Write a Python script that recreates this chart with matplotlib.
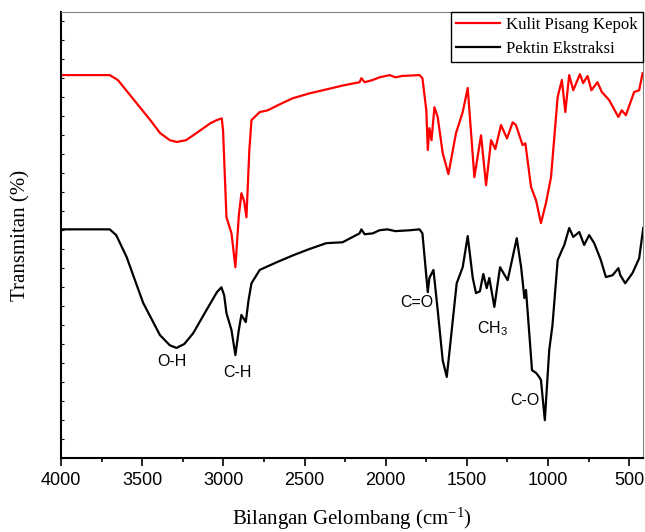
import numpy as np
import matplotlib
matplotlib.use("Agg")
import matplotlib.pyplot as plt
from matplotlib.ticker import MultipleLocator

plt.rcParams["mathtext.fontset"] = "custom"
plt.rcParams["mathtext.rm"] = "Liberation Serif"
plt.rcParams["mathtext.it"] = "Liberation Serif:italic"

# wavenumber (cm-1) and transmittance (arbitrary %)
kulit_w = [4000, 3700, 3650, 3550, 3450, 3390, 3330, 3287, 3230, 3150, 3080, 3041, 3010,
           3002, 2981, 2950, 2926, 2905, 2889, 2872, 2858, 2840, 2827, 2776, 2727, 2650,
           2573, 2470, 2364, 2260, 2161, 2150, 2130, 2080, 2038, 2000, 1976, 1940, 1900,
           1792, 1774, 1750, 1741, 1731, 1718, 1700, 1680, 1649, 1614, 1567, 1526, 1495,
           1454, 1413, 1382, 1351, 1325, 1290, 1253, 1218, 1198, 1157, 1140, 1105, 1074,
           1044, 1013, 982, 941, 915, 894, 870, 845, 804, 784, 757, 733, 696, 669, 624,
           567, 546, 521, 470, 439, 418]
kulit_t = [85.9, 85.9, 84.8, 80.3, 75.8, 72.9, 71.3, 70.9, 71.3, 73.3, 75.1, 75.8, 76.2,
           73.5, 54.0, 50.4, 42.8, 54.3, 59.4, 57.6, 54.0, 69.1, 75.8, 77.6, 78.0, 79.4,
           80.7, 81.8, 82.7, 83.6, 84.3, 85.2, 84.3, 84.8, 85.4, 85.7, 85.9, 85.4, 85.7,
           85.9, 85.2, 78.0, 69.1, 74.0, 71.3, 78.7, 76.5, 68.4, 63.7, 72.9, 77.6, 83.0,
           63.0, 72.4, 61.2, 71.3, 69.3, 74.7, 71.7, 75.3, 74.7, 70.2, 70.6, 60.8, 57.8,
           52.7, 57.2, 63.0, 81.0, 84.8, 77.6, 85.9, 82.5, 86.1, 84.1, 85.7, 82.5, 84.3,
           82.1, 80.3, 76.5, 78.0, 76.9, 82.1, 82.5, 86.3]

pektin_w = [4000, 3700, 3660, 3596, 3494, 3391, 3330, 3289, 3240, 3186, 3104, 3040, 3012,
            2995, 2981, 2950, 2926, 2905, 2889, 2862, 2845, 2827, 2776, 2673, 2569, 2469,
            2366, 2266, 2161, 2150, 2130, 2080, 2038, 1990, 1940, 1850, 1792, 1774, 1741,
            1731, 1706, 1680, 1649, 1624, 1598, 1563, 1526, 1495, 1464, 1444, 1420, 1399,
            1378, 1362, 1331, 1296, 1249, 1193, 1166, 1146, 1136, 1116, 1099, 1074, 1055,
            1044, 1020, 993, 973, 941, 915, 900, 870, 845, 808, 778, 747, 716, 675, 644,
            603, 567, 555, 525, 480, 439, 414]
pektin_t = [51.3, 51.3, 50.0, 45.1, 34.8, 27.6, 25.3, 24.7, 25.6, 28.0, 33.2, 37.2, 38.3,
            36.5, 32.5, 28.7, 23.1, 28.7, 32.1, 30.5, 35.4, 39.2, 42.2, 43.9, 45.5, 46.9,
            48.2, 48.4, 50.4, 51.3, 50.2, 50.4, 51.1, 51.3, 50.9, 51.1, 51.3, 50.4, 37.2,
            40.4, 42.2, 33.2, 21.9, 18.2, 27.1, 39.2, 42.8, 49.8, 40.4, 37.0, 37.4, 41.3,
            38.1, 40.4, 33.9, 42.8, 39.9, 49.3, 42.8, 35.9, 37.7, 28.0, 19.7, 19.1, 18.2,
            17.5, 8.5, 24.2, 29.8, 44.4, 46.6, 47.8, 51.6, 49.6, 50.7, 47.8, 50.0, 48.2,
            44.4, 40.6, 41.0, 42.6, 41.0, 39.2, 41.5, 44.8, 51.6]

labels = ["Kulit Pisang Kepok", "Pektin Ekstraksi"]
notes = ["O-H", "C-H", "C=O", "CH$_\\mathregular{3}$", "C-O"]
note_w = [3320, 2911, 1810, 1343, 1146]
note_t = [21.6, 19.1, 34.8, 29.1, 13.0]

fig = plt.figure(figsize=(6.45, 5.32), dpi=100)
ax = fig.add_axes([0.0946, 0.139, 0.9024, 0.838])

ax.plot(kulit_w, kulit_t, color="red", lw=1.6, label=labels[0])
ax.plot(pektin_w, pektin_t, color="black", lw=1.6, label=labels[1])

for n, w, t in zip(notes, note_w, note_t):
    ax.text(w, t, n, family="Liberation Sans", fontsize=11.5, ha="center", va="center")

ax.set_xlim(4000, 415)
ax.set_ylim(0, 100)
ax.xaxis.set_major_locator(MultipleLocator(500))
ax.xaxis.set_minor_locator(MultipleLocator(250))
ax.tick_params(axis="x", which="major", direction="out", length=6, width=1.2,
               labelsize=13, pad=4)
ax.tick_params(axis="x", which="minor", direction="out", length=3, width=1.2)
for lab in ax.get_xticklabels():
    lab.set_family("Liberation Sans")
ax.yaxis.set_major_locator(MultipleLocator(4.26))
ax.tick_params(axis="y", which="major", direction="in", length=2, width=0.8,
               labelleft=False)

ax.spines["left"].set_linewidth(1.5)
ax.spines["bottom"].set_linewidth(1.5)
ax.spines["top"].set_color("#808080")
ax.spines["right"].set_color("#808080")

ax.set_xlabel("Bilangan Gelombang (cm$^{\\mathregular{-1}}$)", family="Liberation Serif",
              fontsize=15, labelpad=12)
ax.set_ylabel("Transmitan (%)", family="Liberation Serif", fontsize=15, labelpad=22)

leg = ax.legend(loc="upper right", borderaxespad=0, fancybox=False, framealpha=1,
                edgecolor="black", prop={"family": "Liberation Serif", "size": 12},
                handlelength=2.6, handletextpad=0.4, labelspacing=0.45, borderpad=0.3)
leg.get_frame().set_linewidth(1.0)

fig.savefig("out.png", dpi=100)
